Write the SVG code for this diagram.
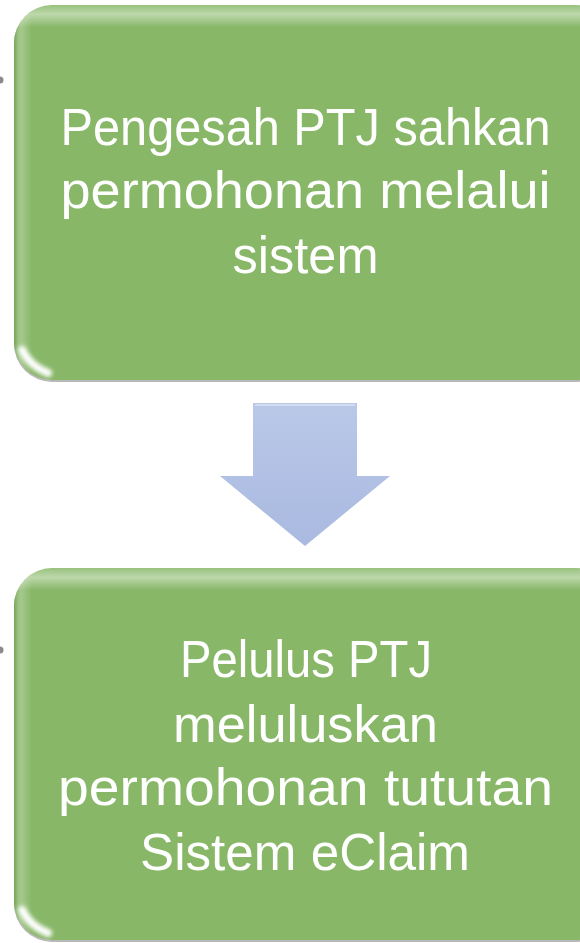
<svg xmlns="http://www.w3.org/2000/svg" width="580" height="943" viewBox="0 0 580 943">
<defs>
<style>
.box{fill:#87B767;}
.lbl{font-family:"Liberation Sans",Arial,sans-serif;font-size:52px;fill:#FFFFFF;text-anchor:middle;}
.dot{fill:#8a8a8a;}
</style>
<linearGradient id="topHi" x1="0" y1="0" x2="0" y2="1">
<stop offset="0" stop-color="#ffffff" stop-opacity="0.15"/>
<stop offset="0.025" stop-color="#ffffff" stop-opacity="0.45"/>
<stop offset="0.06" stop-color="#ffffff" stop-opacity="0"/>
<stop offset="1" stop-color="#ffffff" stop-opacity="0"/>
</linearGradient>
<linearGradient id="leftSh" x1="0" y1="0" x2="1" y2="0">
<stop offset="0" stop-color="#5f8f45" stop-opacity="0.5"/>
<stop offset="0.012" stop-color="#ffffff" stop-opacity="0.25"/>
<stop offset="0.03" stop-color="#ffffff" stop-opacity="0"/>
<stop offset="1" stop-color="#ffffff" stop-opacity="0"/>
</linearGradient>
<linearGradient id="arrowG" x1="0" y1="0" x2="0" y2="1">
<stop offset="0" stop-color="#BAC8E8"/>
<stop offset="1" stop-color="#A9B9E0"/>
</linearGradient>
<filter id="blur" x="-50%" y="-50%" width="200%" height="200%">
<feGaussianBlur stdDeviation="2"/>
</filter>
<filter id="blur1" x="-50%" y="-50%" width="200%" height="200%">
<feGaussianBlur stdDeviation="1"/>
</filter>
</defs>

<circle class="dot" cx="0" cy="80" r="3.5"/>
<circle class="dot" cx="0" cy="650" r="3.5"/>

<g id="node1">
<rect x="14" y="6" width="600" height="376" rx="38" fill="#9a9a9a" opacity="0.7"/>
<rect class="box" x="14" y="5" width="600" height="375" rx="38"/>
<rect x="14" y="5" width="600" height="375" rx="38" fill="url(#topHi)"/>
<rect x="14" y="5" width="600" height="375" rx="38" fill="url(#leftSh)"/>
<path d="M22,350 Q30,366 48,373" stroke="#ffffff" stroke-width="8" fill="none" stroke-linecap="round" filter="url(#blur)"/>
<text class="lbl" x="305.5" y="145" textLength="490" lengthAdjust="spacingAndGlyphs">Pengesah PTJ sahkan</text>
<text class="lbl" x="305.5" y="208" textLength="490" lengthAdjust="spacingAndGlyphs">permohonan melalui</text>
<text class="lbl" x="305.5" y="273" textLength="146" lengthAdjust="spacingAndGlyphs">sistem</text>
</g>

<g id="connectors">
<polygon points="253,403 357,403 357,476 390,476 305,546 220,476 253,476" fill="url(#arrowG)"/>
<line x1="353" y1="408" x2="353" y2="474" stroke="#ffffff" stroke-width="2.5" opacity="0.8" filter="url(#blur1)"/>
<line x1="255" y1="405" x2="355" y2="405" stroke="#ffffff" stroke-width="2" opacity="0.35"/>
</g>

<g id="node2">
<rect x="14" y="569" width="600" height="373" rx="38" fill="#9a9a9a" opacity="0.7"/>
<rect class="box" x="14" y="568" width="600" height="372" rx="38"/>
<rect x="14" y="568" width="600" height="372" rx="38" fill="url(#topHi)"/>
<rect x="14" y="568" width="600" height="372" rx="38" fill="url(#leftSh)"/>
<path d="M22,910 Q30,926 48,933" stroke="#ffffff" stroke-width="8" fill="none" stroke-linecap="round" filter="url(#blur)"/>
<text class="lbl" x="306" y="677" textLength="252" lengthAdjust="spacingAndGlyphs">Pelulus PTJ</text>
<text class="lbl" x="305.5" y="742" textLength="265" lengthAdjust="spacingAndGlyphs">meluluskan</text>
<text class="lbl" x="305.5" y="805" textLength="495" lengthAdjust="spacingAndGlyphs">permohonan tututan</text>
<text class="lbl" x="305" y="870" textLength="330" lengthAdjust="spacingAndGlyphs">Sistem eClaim</text>
</g>
</svg>
